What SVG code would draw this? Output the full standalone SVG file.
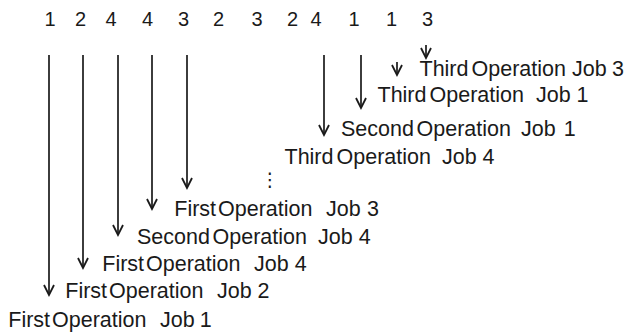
<svg xmlns="http://www.w3.org/2000/svg" width="629" height="335" viewBox="0 0 629 335">
  <style>
    .lbl { font-family: "Liberation Sans", Arial, sans-serif; font-size: 21.5px; fill: #1a1a1a; }
    .num { font-family: "Liberation Sans", Arial, sans-serif; font-size: 20px; fill: #1a1a1a; text-anchor: middle; }
    .dots { font-family: "DejaVu Sans", sans-serif; font-size: 19px; fill: #1a1a1a; text-anchor: middle; }
    .arr { stroke: #1a1a1a; stroke-width: 1.7; fill: none; marker-end: url(#head); }
  </style>
  <defs>
    <marker id="head" markerUnits="userSpaceOnUse" markerWidth="14" markerHeight="14" viewBox="-7 -12 14 14" refX="0" refY="0" orient="auto-start-reverse" overflow="visible">
      <path d="M-10,-5 L0,0 L-10,5" fill="none" stroke="#1a1a1a" stroke-width="1.8" stroke-linejoin="miter"/>
    </marker>
  </defs>
  <rect width="629" height="335" fill="#ffffff"/>

  <!-- job sequence along the top -->
  <g id="sequence">
    <text class="num" x="50" y="26">1</text>
    <text class="num" x="80.5" y="26">2</text>
    <text class="num" x="111" y="26">4</text>
    <text class="num" x="147.5" y="26">4</text>
    <text class="num" x="183.5" y="26">3</text>
    <text class="num" x="218.5" y="26">2</text>
    <text class="num" x="257" y="26">3</text>
    <text class="num" x="292.5" y="26">2</text>
    <text class="num" x="316" y="26">4</text>
    <text class="num" x="354" y="26">1</text>
    <text class="num" x="391.5" y="26">1</text>
    <text class="num" x="427.5" y="26">3</text>
  </g>

  <!-- arrows from each sequence position down to its operation -->
  <g id="connectors">
    <line class="arr" x1="49" y1="55" x2="49" y2="295"/>
    <line class="arr" x1="83" y1="55" x2="83" y2="268"/>
    <line class="arr" x1="118" y1="55" x2="118" y2="235"/>
    <line class="arr" x1="152" y1="55" x2="152" y2="209"/>
    <line class="arr" x1="187" y1="55" x2="187" y2="188"/>
    <line class="arr" x1="324" y1="55" x2="324" y2="135"/>
    <line class="arr" x1="361" y1="55" x2="361" y2="108"/>
    <line class="arr" x1="397" y1="62" x2="397" y2="75"/>
    <line class="arr" x1="426" y1="45" x2="426" y2="58"/>
  </g>

  <!-- operation labels (words placed individually) -->
  <g id="op-third-job3"><text class="lbl" y="76"><tspan x="419.5">Third</tspan> <tspan x="471.5">Operation</tspan>  <tspan x="572">Job</tspan> <tspan x="612">3</tspan></text></g>
  <g id="op-third-job1"><text class="lbl" y="102"><tspan x="377.5">Third</tspan> <tspan x="429.5">Operation</tspan>  <tspan x="536">Job</tspan> <tspan x="576.5">1</tspan></text></g>
  <g id="op-second-job1"><text class="lbl" y="136"><tspan x="341">Second</tspan> <tspan x="416.5">Operation</tspan>  <tspan x="521">Job</tspan> <tspan x="563.7">1</tspan></text></g>
  <g id="op-third-job4"><text class="lbl" y="164"><tspan x="284.5">Third</tspan> <tspan x="336.5">Operation</tspan>  <tspan x="442">Job</tspan> <tspan x="482.5">4</tspan></text></g>
  <g id="ellipsis"><text class="dots" x="270" y="186">⋮</text></g>
  <g id="op-first-job3"><text class="lbl" y="216"><tspan x="174.3">First</tspan> <tspan x="218">Operation</tspan>  <tspan x="326">Job</tspan> <tspan x="367.1">3</tspan></text></g>
  <g id="op-second-job4"><text class="lbl" y="244"><tspan x="137">Second</tspan> <tspan x="212.5">Operation</tspan>  <tspan x="318">Job</tspan> <tspan x="358.8">4</tspan></text></g>
  <g id="op-first-job4"><text class="lbl" y="271"><tspan x="102.3">First</tspan> <tspan x="146">Operation</tspan>  <tspan x="254">Job</tspan> <tspan x="294.8">4</tspan></text></g>
  <g id="op-first-job2"><text class="lbl" y="298"><tspan x="65.3">First</tspan> <tspan x="109">Operation</tspan>  <tspan x="217">Job</tspan> <tspan x="257.4">2</tspan></text></g>
  <g id="op-first-job1"><text class="lbl" y="327"><tspan x="8.3">First</tspan> <tspan x="52">Operation</tspan>  <tspan x="160">Job</tspan> <tspan x="199.7">1</tspan></text></g>
</svg>
